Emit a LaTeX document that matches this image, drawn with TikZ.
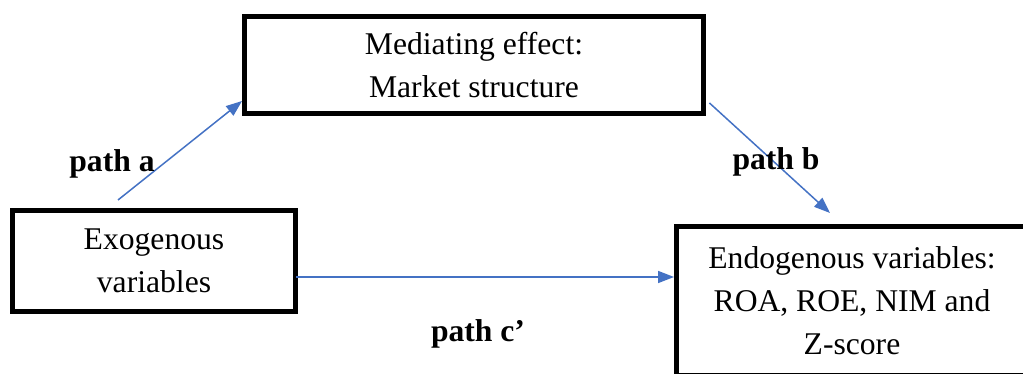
\documentclass[tikz,border=0pt]{standalone}
\usepackage{fontspec}
\setmainfont{Liberation Serif}
\usetikzlibrary{arrows.meta}
\definecolor{pathblue}{RGB}{68,114,196}
\begin{document}
\begin{tikzpicture}
	[x=0.02cm, y=-0.02cm,
	 box/.style={rectangle, draw, line width=0.1cm, align=center, inner sep=0pt, font=\fontsize{18}{24.5}\selectfont},
	 link/.style={draw=pathblue, line width=0.03cm, -{Triangle[length=0.32cm,width=0.24cm]}},
	 lbl/.style={anchor=base, inner sep=0pt, font=\fontsize{18}{24.5}\selectfont\bfseries}]
	\useasboundingbox (0,0) rectangle (1023,374);
	\clip (0,0) rectangle (1023,374);
	\node[box, minimum width=9.18cm, minimum height=1.96cm] (med) at (474,65) {Mediating effect:\\Market structure};
	\node[box, minimum width=5.66cm, minimum height=2.02cm] (exo) at (154,261) {Exogenous\\variables};
	\node[box, minimum width=7.02cm, minimum height=2.98cm] (endo) at (852,301) {Endogenous variables:\\ROA, ROE, NIM and\\Z-score};
	\coordinate (a0) at (118,200);
	\coordinate (b1) at (830,213);
	\coordinate (c0) at (296,277);
	\draw[link] (a0) -- ([yshift=0.31cm]med.south west);
	\draw[link] ([shift={(0.07cm,0.27cm)}]med.south east) -- (b1);
	\draw[link] (c0) -- (c0 -| endo.west);
	\node[lbl] (pa) at (112,172) {path a};
	\node[lbl] (pb) at (776,170) {path b};
	\node[lbl] (pc) at (478,342) {path c’};
\end{tikzpicture}
\end{document}
